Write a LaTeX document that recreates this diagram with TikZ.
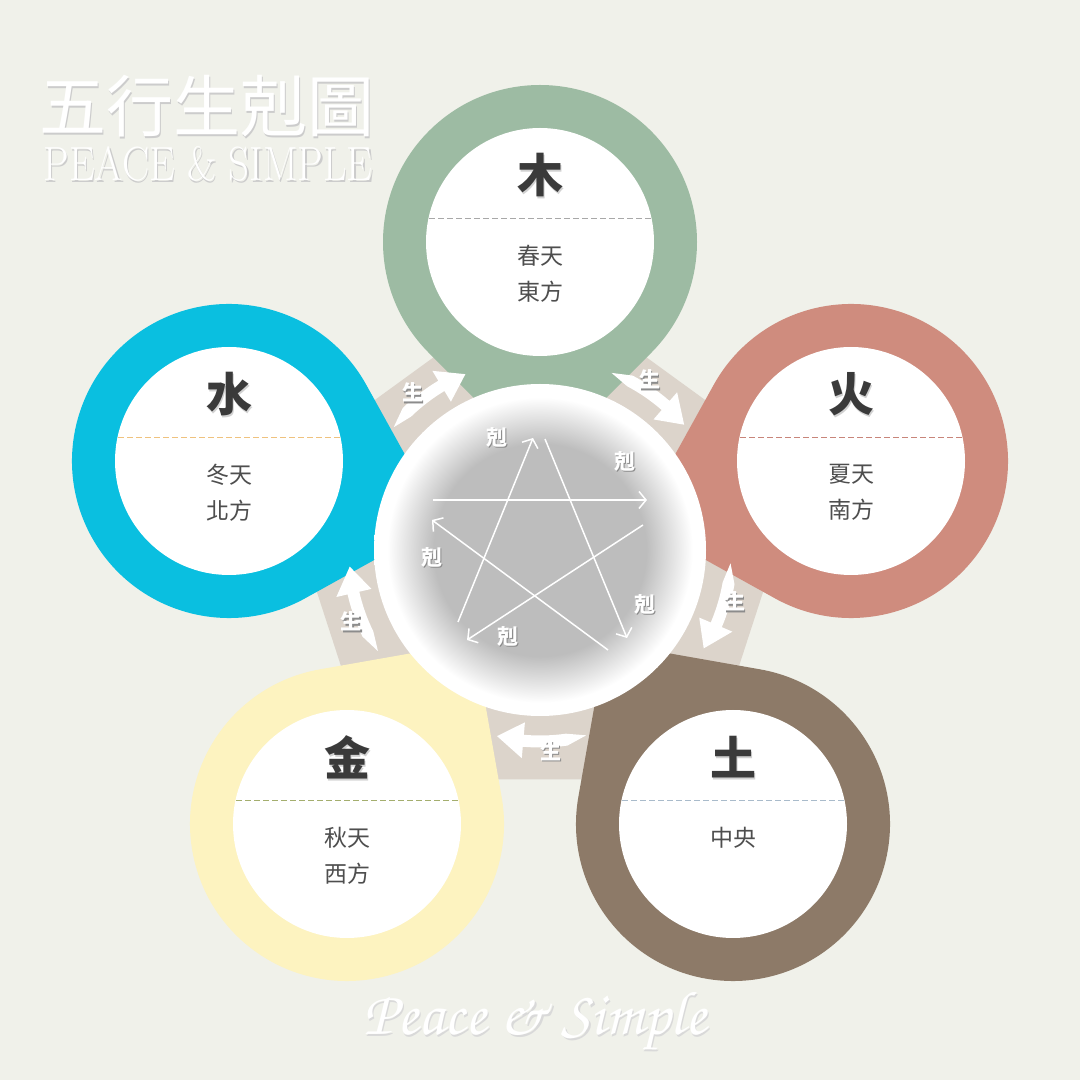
\documentclass[tikz,border=0pt]{standalone}
\usepackage{fontspec}
\usetikzlibrary{calc,arrows.meta}
\newfontfamily\cjk{Noto Sans CJK TC}
\newfontfamily\chorus{TeX Gyre Chorus}
\definecolor{bg}{HTML}{F0F1EA}
\definecolor{penta}{HTML}{DCD4CB}
\definecolor{c-mu}{HTML}{9DBBA3}
\definecolor{c-huo}{HTML}{CF8C7E}
\definecolor{c-tu}{HTML}{8D7A68}
\definecolor{c-jin}{HTML}{FDF3C0}
\definecolor{c-shui}{HTML}{0ABFE0}
\definecolor{d-mu}{HTML}{A8A8A8}
\definecolor{d-huo}{HTML}{C8857A}
\definecolor{d-tu}{HTML}{A9BBCB}
\definecolor{d-jin}{HTML}{A4AE6E}
\definecolor{d-shui}{HTML}{EFC27E}
\definecolor{ink}{HTML}{3A3A3A}
\definecolor{coregray}{HTML}{BDBDBD}
\pgfdeclareradialshading{glow}{\pgfpoint{0bp}{0bp}}{color(0bp)=(coregray); color(16bp)=(coregray); color(23bp)=(white); color(25bp)=(white); color(50bp)=(white)}
\newcommand\shadowed[2]{\rlap{\kern1.3pt\raisebox{-1.7pt}{\textcolor{#1}{#2}}}#2}

\begin{document}
\begin{tikzpicture}[x=1pt, y=1pt,
          hole/.style = {circle, fill=white, minimum size=228pt, inner sep=0pt},
          elem/.style = {font=\cjk\bfseries\fontsize{46}{48}\selectfont, text=ink},
          info/.style = {font=\cjk\fontsize{23}{36}\selectfont, text=ink!90, align=center, inner sep=0pt, anchor=north},
          tag/.style = {font=\cjk\bfseries\fontsize{21}{22}\selectfont, text=white, inner sep=0pt},
          ke/.style = {white, line width=1.5pt, -{Straight Barb[length=7pt, width=17pt, line width=1.5pt]}}]
        \useasboundingbox (0,0) rectangle (1080,1080);
        \fill[bg] (0,0) rectangle (1080,1080);
        \fill[penta, shift={(540,524)}] (90:276) -- (162:276) -- (234:276) -- (306:276) -- (18:276) -- cycle;
        \coordinate (M) at (540,530);
        \coordinate (mu) at (540,838);
        \coordinate (huo) at (851,619);
        \coordinate (tu) at (733,256);
        \coordinate (jin) at (347,256);
        \coordinate (shui) at (229,619);
        \foreach \n/\d/\ch/\t in {mu/270/木/{春天\\東方}, huo/196/火/{夏天\\南方},
                                tu/125/土/{中央}, jin/55/金/{秋天\\西方}, shui/344/水/{冬天\\北方}}
                 {
                   \fill[c-\n] ($(\n)+(\d:222)$) -- ($(\n)+(\d+45:157)$)
                     arc[start angle=\d+45, end angle=\d+315, radius=157] -- cycle;
                   \node[hole] (\n-in) at (\n) {};
                   \draw[d-\n, line width=1pt, dash pattern=on 6pt off 3pt] ($(\n)+(-111,23)$) -- ($(\n)+(111,23)$);
                   \node[elem] (\n-ch) at ($(\n)+(0,66)$) {\shadowed{black!18}{\ch}};
                   \node[info] (\n-txt) at ($(\n)+(0,-3)$) {\t};
                 }
        \node[circle, minimum size=332pt, inner sep=0pt, shading=glow] (core) at (M) {};
        \coordinate (s1) at (458,458);  \coordinate (t1) at (533,642);
        \coordinate (s2) at (545,641);  \coordinate (t2) at (627,442);
        \coordinate (s3) at (608,430);  \coordinate (t3) at (432,560);
        \coordinate (s4) at (433,580);  \coordinate (t4) at (647,580);
        \coordinate (s5) at (643,555);  \coordinate (t5) at (467,440);
        \foreach \i in {1,...,5}
                 {
                   \draw[ke] (s\i) -- (t\i);
                 }
        \foreach \p [count=\i] in {{497,642}, {625,618}, {432,522}, {645,475}, {508,443}}
                 {
                   \node[tag] (ke\i) at (\p) {\shadowed{black!45}{剋}};
                 }
        \foreach \v [count=\i] in {126,54,-18,-90,-162}
                 {
                   \fill[white] ($(M)+(\v+14:191)$) -- ($(M)+(\v+8:197.5)$)
                     arc[start angle=\v+8, end angle=\v-5, radius=197.5] -- ($(M)+(\v-5:209)$)
                     -- ($(M)+(\v-13:191)$) -- ($(M)+(\v-5:173)$) -- ($(M)+(\v-5:185.5)$)
                     arc[start angle=\v-5, end angle=\v+8, radius=185.5] -- cycle;
                   \node[tag] (sheng\i) at ($(M)+(\v+3:202)$) {\shadowed{black!45}{生}};
                 }
        \node[anchor=west, font=\cjk\fontsize{67}{70}\selectfont, text=white] (title) at (36,973) {\shadowed{black!20}{五行生剋圖}};
        \node[anchor=west, font=\fontsize{48}{50}\selectfont, text=white] (sub) at (40,915) {\shadowed{black!20}{\scalebox{0.85}[1]{PEACE \& SIMPLE}}};
        \node[font=\chorus\fontsize{62}{64}\selectfont, text=white] (sign) at (535,58) {\shadowed{black!15}{Peace \& Simple}};
\end{tikzpicture}
\end{document}
